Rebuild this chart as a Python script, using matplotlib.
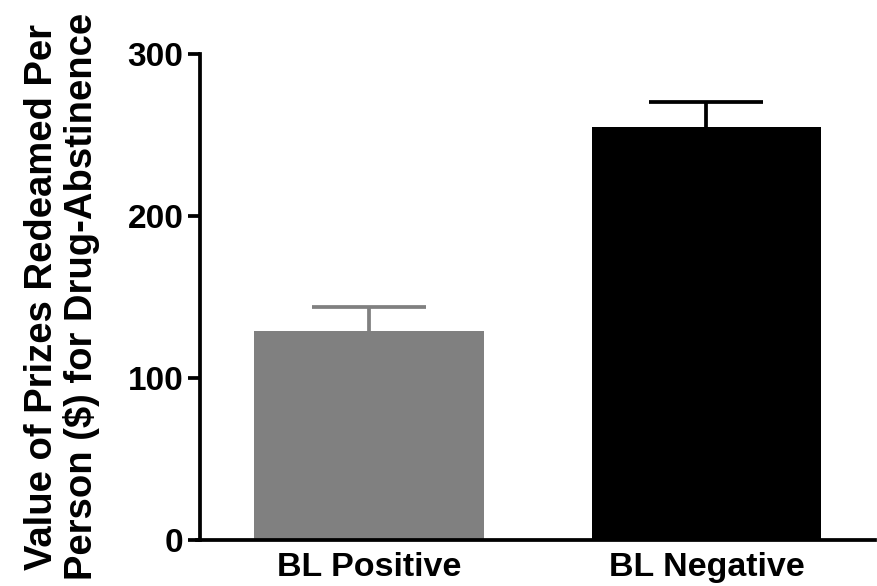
import matplotlib.pyplot as plt
import numpy as np

groups = ['BL Positive', 'BL Negative']
means = [129, 255]
sems = [15, 15]
colors = ['#808080', '#000000']

plt.rcParams['font.family'] = ['Liberation Sans', 'DejaVu Sans']
plt.rcParams['font.weight'] = 'bold'

fig = plt.figure(figsize=(8.77, 5.86), dpi=100)
ax = fig.add_axes([0.228, 0.079, 0.77, 0.829])

x = np.arange(len(groups))
for xi, m, s, c in zip(x, means, sems, colors):
    ax.bar(xi, m, width=0.68, color=c, zorder=2)
    eb = ax.errorbar(xi, m, yerr=[[0], [s]], color=c, elinewidth=2.7,
                     capsize=41, capthick=2.7, zorder=1)
    # only the upper cap is drawn
    eb[1][0].set_visible(False)

ax.set_xlim(-0.5, 1.5)
ax.set_ylim(0, 300)
ax.set_yticks([0, 100, 200, 300])
ax.set_xticks(x)
ax.set_xticklabels(groups, fontsize=24.5, fontweight='bold')
ax.tick_params(axis='y', labelsize=24, length=9, width=2.7, pad=3)
ax.tick_params(axis='x', length=0, pad=9)
for lbl in ax.get_yticklabels():
    lbl.set_fontweight('bold')

ax.spines['top'].set_visible(False)
ax.spines['right'].set_visible(False)
ax.spines['left'].set_linewidth(2.7)
ax.spines['bottom'].set_linewidth(2.7)
ax.spines['bottom'].set_bounds(-0.51, 1.5)

ax.set_ylabel('Value of Prizes Redeamed Per\nPerson ($) for Drug-Abstinence',
              fontsize=27.5, fontweight='bold', labelpad=20, linespacing=1.08)

fig.savefig('out.png', dpi=100)
